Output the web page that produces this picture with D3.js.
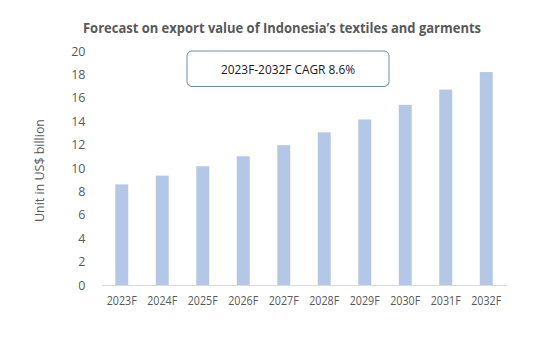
<!DOCTYPE html>
<html><head><meta charset="utf-8">
<script src="https://cdn.jsdelivr.net/npm/d3@7"></script>
<style>body{margin:0;background:#fff}svg{display:block}</style>
</head><body>
<script>
const categories = ["2023F","2024F","2025F","2026F","2027F","2028F","2029F","2030F","2031F","2032F"];
const values = [8.6, 9.35, 10.15, 11.0, 11.95, 13.05, 14.15, 15.4, 16.7, 18.2];
const yTicks = [0,2,4,6,8,10,12,14,16,18,20];
const titleText = "Forecast on export value of Indonesia\u2019s textiles and garments";
const yLabel = "Unit in US$ billion";
const boxText = "2023F-2032F  CAGR 8.6%";

const W = 550, H = 338;
const m = {left: 101.5, right: 43.5, top: 51, bottom: 53};
const font = "'Open Sans', sans-serif";
const svg = d3.select("body").append("svg").attr("width", W).attr("height", H);

const x = d3.scaleBand().domain(categories).range([m.left, W - m.right]).paddingInner(0.68).paddingOuter(0.34);
const y = d3.scaleLinear().domain([0, 20]).range([H - m.bottom, m.top]);

svg.append("text").attr("x", 282).attr("y", 33).attr("text-anchor", "middle")
  .attr("font-family", font).attr("font-weight", "bold").attr("font-size", 15)
  .attr("fill", "#595959").attr("textLength", 398).attr("lengthAdjust", "spacingAndGlyphs")
  .text(titleText);

svg.selectAll("rect.bar").data(values).join("rect").attr("class", "bar")
  .attr("x", (d, i) => x(categories[i])).attr("width", x.bandwidth())
  .attr("y", d => y(d)).attr("height", d => y(0) - y(d)).attr("fill", "#b4c7e7");

const yAxis = d3.axisLeft(y).tickValues(yTicks).tickSize(0).tickPadding(16);
const gy = svg.append("g").attr("transform", `translate(${m.left},0)`).call(yAxis);
gy.select(".domain").remove();
gy.selectAll("text").attr("font-family", font).attr("font-size", 12.5).attr("fill", "#595959");

const xAxis = d3.axisBottom(x).tickSize(0).tickPadding(11);
const gx = svg.append("g").attr("transform", `translate(0,${y(0)})`).call(xAxis);
gx.select(".domain").attr("stroke", "#d9d9d9").attr("stroke-width", 1);
gx.selectAll("text").attr("font-family", font).attr("font-size", 12).attr("fill", "#595959")
  .attr("textLength", 30).attr("lengthAdjust", "spacingAndGlyphs");

svg.append("text").attr("transform", `translate(44,170.5) rotate(-90)`).attr("text-anchor", "middle")
  .attr("font-family", font).attr("font-size", 12.5).attr("fill", "#595959")
  .attr("textLength", 103).attr("lengthAdjust", "spacingAndGlyphs").text(yLabel);

svg.append("rect").attr("x", 187).attr("y", 51).attr("width", 202).attr("height", 35.5)
  .attr("rx", 5).attr("fill", "#fff").attr("stroke", "#6e8aa0").attr("stroke-width", 1);
svg.append("text").attr("x", 288).attr("y", 73.5).attr("text-anchor", "middle")
  .attr("font-family", font).attr("font-size", 13).attr("fill", "#1a1a1a")
  .attr("textLength", 134).attr("lengthAdjust", "spacingAndGlyphs").text(boxText);
</script>
</body></html>
